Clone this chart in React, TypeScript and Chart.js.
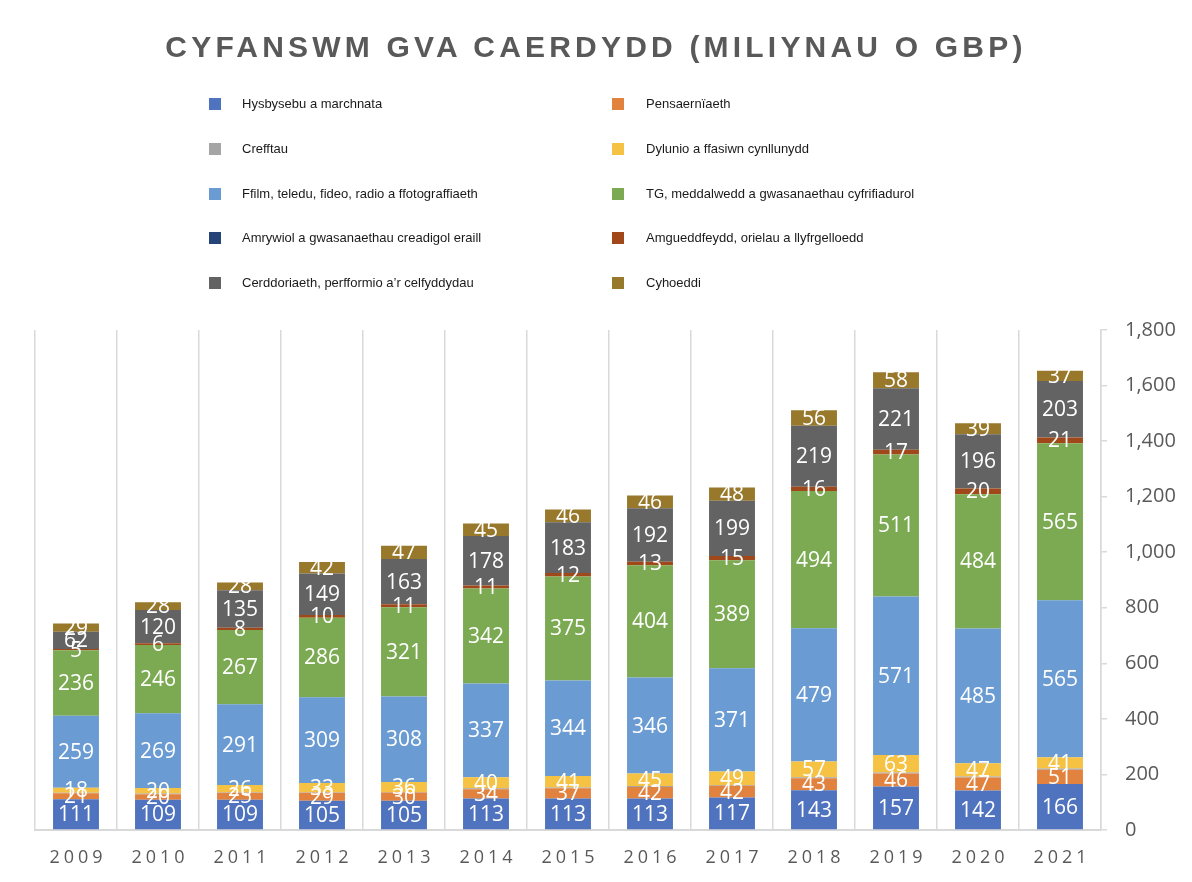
import React, { useEffect, useRef } from 'react';
import { Chart, registerables } from 'chart.js';

Chart.register(...registerables);

const years = ['2009', '2010', '2011', '2012', '2013', '2014', '2015', '2016', '2017', '2018', '2019', '2020', '2021'];

const seriesNames = [
  'Hysbysebu a marchnata',
  'Pensaernïaeth',
  'Crefftau',
  'Dylunio a ffasiwn cynllunydd',
  'Ffilm, teledu, fideo, radio a ffotograffiaeth',
  'TG, meddalwedd a gwasanaethau cyfrifiadurol',
  'Amrywiol a gwasanaethau creadigol eraill',
  'Amgueddfeydd, orielau a llyfrgelloedd',
  'Cerddoriaeth, perfformio a’r celfyddydau',
  'Cyhoeddi',
];

const hysbysebu = [111, 109, 109, 105, 105, 113, 113, 113, 117, 143, 157, 142, 166];
const pensaerniaeth = [21, 20, 25, 29, 30, 34, 37, 42, 42, 43, 46, 47, 51];
const crefftau = [2, 2, 2, 2, 2, 3, 3, 3, 3, 4, 4, 4, 4];
const dylunio = [18, 20, 26, 33, 36, 40, 41, 45, 49, 57, 63, 47, 41];
const ffilm = [259, 269, 291, 309, 308, 337, 344, 346, 371, 479, 571, 485, 565];
const tg = [236, 246, 267, 286, 321, 342, 375, 404, 389, 494, 511, 484, 565];
const amrywiol = [0, 0, 0, 0, 0, 0, 0, 0, 0, 0, 0, 0, 0];
const amgueddfeydd = [5, 6, 8, 10, 11, 11, 12, 13, 15, 16, 17, 20, 21];
const cerddoriaeth = [62, 120, 135, 149, 163, 178, 183, 192, 199, 219, 221, 196, 203];
const cyhoeddi = [29, 28, 28, 42, 47, 45, 46, 46, 48, 56, 58, 39, 37];

const seriesValues = [hysbysebu, pensaerniaeth, crefftau, dylunio, ffilm, tg, amrywiol, amgueddfeydd, cerddoriaeth, cyhoeddi];

const seriesColors = ['#4F73BE', '#E2823F', '#A5A5A5', '#F5C243', '#6A9BD2', '#7BAA52', '#264478', '#A0481A', '#636363', '#98782A'];
const showLabels = [true, true, false, true, true, true, false, true, true, true];

const labelPlugin = {
  id: 'segLabels',
  afterDatasetsDraw(chart: any) {
    const ctx = chart.ctx;
    ctx.save();
    ctx.font = '21px "Open Sans"';
    ctx.fillStyle = '#ffffff';
    ctx.textAlign = 'center';
    ctx.textBaseline = 'middle';
    chart.data.datasets.forEach((ds: any, i: number) => {
      if (!showLabels[i]) return;
      const meta = chart.getDatasetMeta(i);
      meta.data.forEach((el: any, j: number) => {
        const v = ds.data[j];
        if (!v) return;
        const p = el.getProps(['x', 'y', 'base'], true);
        ctx.fillText(String(v), p.x, (p.y + p.base) / 2 + 1);
      });
    });
    ctx.restore();
  },
};

const xLabelPlugin = {
  id: 'xLabels',
  afterDraw(chart: any) {
    const ctx = chart.ctx;
    const xs = chart.scales.x;
    ctx.save();
    ctx.font = '18px "Open Sans"';
    ctx.fillStyle = '#595959';
    ctx.textAlign = 'center';
    ctx.textBaseline = 'middle';
    try { (ctx as any).letterSpacing = '4px'; } catch (e) {}
    years.forEach((y, i) => {
      ctx.fillText(y, xs.getPixelForTick(i) + 2, 858);
    });
    ctx.restore();
  },
};

export default function App() {
  const ref = useRef<HTMLCanvasElement>(null);
  useEffect(() => {
    const chart = new Chart(ref.current as HTMLCanvasElement, {
      type: 'bar',
      data: {
        labels: years,
        datasets: seriesNames.map((name, i) => ({
          label: name,
          data: seriesValues[i],
          backgroundColor: seriesColors[i],
          borderWidth: 0,
          barPercentage: 0.56,
          categoryPercentage: 1,
        })),
      },
      options: {
        responsive: false,
        devicePixelRatio: 1,
        animation: false,
        layout: { padding: { left: 35, right: 15, top: 330, bottom: 52 } },
        plugins: {
          legend: { display: false },
          title: { display: false },
          tooltip: { enabled: false },
        },
        scales: {
          x: {
            stacked: true,
            grid: { offset: true, color: '#d9d9d9', lineWidth: 1.5, drawTicks: false },
            border: { color: '#d9d9d9', width: 2 },
            ticks: { display: false },
          },
          y: {
            stacked: true,
            position: 'right',
            min: 0,
            max: 1800,
            afterFit: (scale: any) => { scale.width = 76; },
            ticks: {
              stepSize: 200,
              padding: 18,
              color: '#595959',
              font: { family: 'Open Sans', size: 20 },
            },
            grid: { drawOnChartArea: false, drawTicks: true, tickLength: 6, color: '#d9d9d9', lineWidth: 1.5 },
            border: { color: '#d9d9d9', width: 1.5 },
          },
        },
      },
      plugins: [labelPlugin, xLabelPlugin],
    } as any);
    return () => chart.destroy();
  }, []);

  return (
    <div style={{ position: 'absolute', left: 0, top: 0, width: 1192, height: 882, background: '#fff', overflow: 'hidden' }}>
      <canvas ref={ref} width={1192} height={882} style={{ position: 'absolute', left: 0, top: 0, width: 1192, height: 882 }} />
      <div
        style={{
          position: 'absolute',
          left: 0,
          top: 27,
          width: 1192,
          textAlign: 'center',
          fontFamily: '"Liberation Sans", Arial, sans-serif',
          fontWeight: 'bold',
          fontSize: 30,
          letterSpacing: 4.2,
          color: '#595959',
          lineHeight: '40px',
        }}
      >
        CYFANSWM GVA CAERDYDD (MILIYNAU O GBP)
      </div>
      {seriesNames.map((name, i) => {
        const col = i % 2;
        const row = Math.floor(i / 2);
        const top = 104 + row * 44.8;
        const boxLeft = col === 0 ? 209 : 612;
        const textLeft = col === 0 ? 242 : 646;
        return (
          <React.Fragment key={name}>
            <div style={{ position: 'absolute', left: boxLeft, top: top - 6, width: 12, height: 12, background: seriesColors[i] }} />
            <div
              style={{
                position: 'absolute',
                left: textLeft,
                top: top - 9,
                fontFamily: '"Liberation Sans", Arial, sans-serif',
                fontSize: 13,
                lineHeight: '18px',
                color: '#1a1a1a',
                whiteSpace: 'nowrap',
              }}
            >
              {name}
            </div>
          </React.Fragment>
        );
      })}
    </div>
  );
}
